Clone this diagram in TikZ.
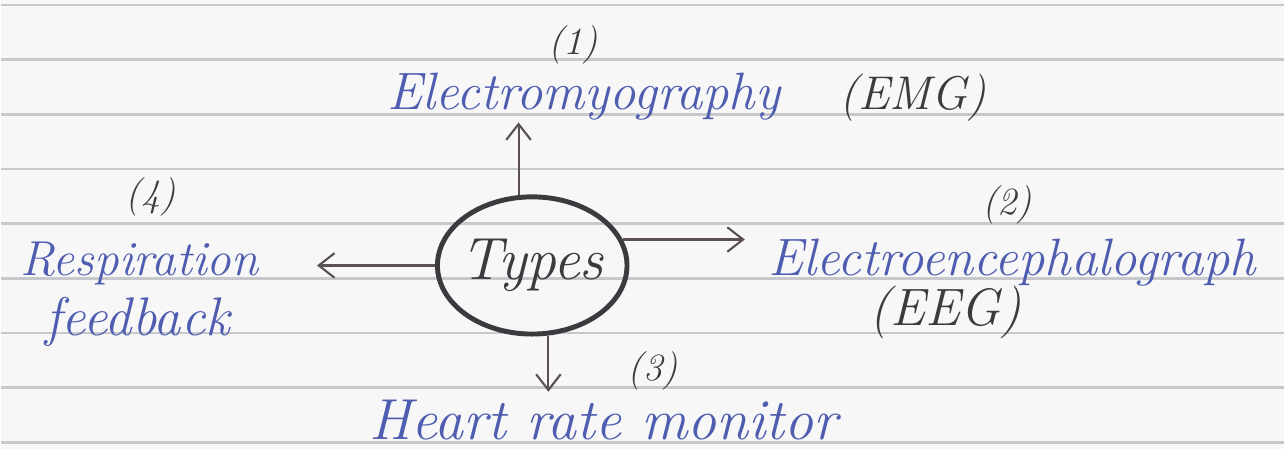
\documentclass[tikz,border=0pt]{standalone}
\usepackage{tikz}
\usetikzlibrary{shapes,arrows,arrows.meta,positioning,calc,shapes.geometric}
\usepackage{xcolor}

\definecolor{paper}{HTML}{F7F7F7}
\definecolor{ruleline}{HTML}{C6C8CB}
\definecolor{inkblue}{HTML}{4F5DB0}
\definecolor{pencil}{HTML}{3C3A3E}
\definecolor{arrowink}{HTML}{5A5052}

\begin{document}
\begin{tikzpicture}[
    x=0.02cm, y=-0.02cm,
    ruled/.style={draw=ruleline, line width=1.5pt},
    hand/.style={font=\fontsize{30}{34}\selectfont\itshape, inner sep=2pt},
    bluetext/.style={hand, text=inkblue},
    abbr/.style={hand, text=pencil},
    numtext/.style={text=pencil, font=\fontsize{22}{26}\selectfont\itshape, inner sep=1pt},
    typesbox/.style={ellipse, draw=pencil, line width=2.8pt, minimum width=3.8cm, minimum height=2.75cm, inner xsep=-14pt, inner ysep=0pt, text=pencil, font=\fontsize{34}{38}\selectfont\itshape},
    branch/.style={-{Straight Barb[length=9pt, width=14pt]}, draw=arrowink, line width=1.2pt}
]

% Paper
\fill[paper] (0,0) rectangle (1285,450);
\foreach \i in {0,...,8}
    \draw[ruled] (0,{5+54.8*\i}) -- (1285,{5+54.8*\i});

% Centre
\node[typesbox] (types) at (532,266) {Types};

% Labels
\node[numtext] (num1) at (573,45) {(1)};
\node[bluetext, anchor=base west] (emg) at (383,110) {Electromyography};
\node[abbr, anchor=base west, font=\fontsize{27}{30}\selectfont\itshape] (emgabbr) at (836,110) {(EMG)};

\node[numtext] (num4) at (150,197) {(4)};
\node[bluetext, anchor=base west, font=\fontsize{28}{30}\selectfont\itshape] (resp) at (15,276) {Respiration};
\node[bluetext, anchor=base west, font=\fontsize{31}{34}\selectfont\itshape] (feed) at (40,336) {feedback};

\node[numtext] (num2) at (1008,205) {(2)};
\node[bluetext, anchor=base west] (eeg) at (765,276) {Electroencephalograph};
\node[abbr, anchor=base west] (eegabbr) at (866,326) {(EEG)};

\node[numtext] (num3) at (653,372) {(3)};
\node[bluetext, anchor=base west, font=\fontsize{33}{36}\selectfont\itshape] (hrm) at (365,440) {Heart rate monitor};

% Branches
\draw[branch] (types.101) -- ($(types.101 |- emg.south)+(0,-2)$);
\draw[branch] (types.west) -- ($(types.west -| resp.east)+(55,0)$);
\draw[branch] (types.16) -- ($(types.16 -| eeg.west)+(-20,0)$);
\draw[branch] (types.-77) -- ($(types.-77 |- hrm.north)+(0,-4)$);

\end{tikzpicture}
\end{document}
